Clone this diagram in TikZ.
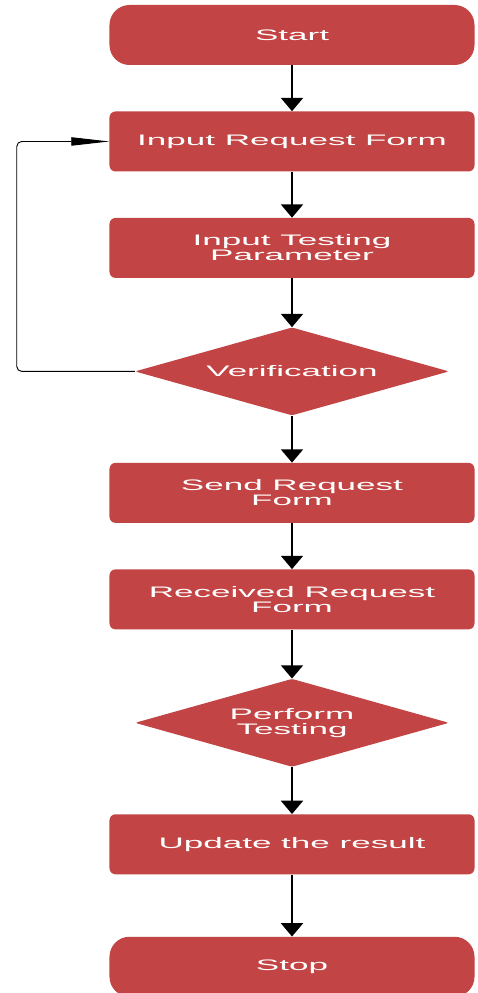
\documentclass[tikz,border=0pt]{standalone}
\usepackage{fontspec}
\newfontfamily\boxfont[FakeStretch=2.3]{Liberation Sans}
\usepackage{tikz}
\usetikzlibrary{shapes,arrows.meta,positioning}
\usepackage{xcolor}
\definecolor{boxred}{RGB}{195,68,68}

\begin{document}
\begin{tikzpicture}[node distance = 1.38cm, auto]

    \tikzstyle{terminal} = [
        rectangle,
        fill=boxred,
        rounded corners=0.6cm,
        text=white,
        align=center,
        minimum width=10.95cm,
        minimum height=1.8cm,
        font=\boxfont\fontsize{13pt}{13pt}\selectfont
    ]
    \tikzstyle{process} = [
        terminal,
        rounded corners=0.18cm
    ]
    \tikzstyle{decision} = [
        diamond,
        fill=boxred,
        rounded corners=2pt,
        text=white,
        align=center,
        aspect=3.57,
        inner sep=0pt,
        minimum width=9.42cm,
        minimum height=2.64cm,
        font=\boxfont\fontsize{13pt}{13pt}\selectfont
    ]
    \tikzstyle{line} = [
        draw,
        line width=1.7pt,
        -{Triangle[width=0.66cm, length=0.4cm]}
    ]
    \tikzstyle{loopline} = [
        draw,
        line width=0.8pt,
        rounded corners=0.15cm,
        -{Triangle[width=0.25cm, length=1.14cm]}
    ]

    \useasboundingbox (-8.76,1.05) rectangle (5.55,-28.74);

    \node [terminal]                      (start) {Start};
    \node [process, below=of start]       (irf)   {Input Request Form};
    \node [process, below=of irf]         (itp)   {Input Testing\\Parameter};
    \node [decision, below=1.47cm of itp] (ver)   {Verification};
    \node [process, below=1.41cm of ver]  (srf)   {Send Request\\Form};
    \node [process, below=of srf]         (rrf)   {Received Request\\Form};
    \node [decision, below=1.47cm of rrf] (perf)  {Perform\\Testing};
    \node [process, below=1.41cm of perf] (upd)   {Update the result};
    \node [terminal, below=1.86cm of upd] (stop)  {Stop};

    \path [line] (start) -- (irf);
    \path [line] (irf) -- (itp);
    \path [line] (itp) -- (ver);
    \path [line] (ver) -- (srf);
    \path [line] (srf) -- (rrf);
    \path [line] (rrf) -- (perf);
    \path [line] (perf) -- (upd);
    \path [line] (upd) -- (stop);

    % back to the request form
    \coordinate (back) at ([xshift=-3.54cm]ver.west);
    \path [loopline] (ver.west) -- (back) |- (irf.west);

\end{tikzpicture}
\end{document}
